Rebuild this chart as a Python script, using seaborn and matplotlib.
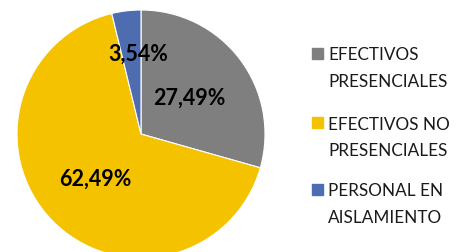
import numpy as np
import matplotlib
matplotlib.use("Agg")
import matplotlib.pyplot as plt
import matplotlib.patches as mpatches
import seaborn as sns

categories = ["EFECTIVOS\nPRESENCIALES", "EFECTIVOS NO\nPRESENCIALES", "PERSONAL EN\nAISLAMIENTO"]
values = [27.49, 62.49, 3.54]
colors = ["#7F7F7F", "#F5C200", "#4E6DB1"]
label_dist = [0.49, 0.51, 0.65]
label_shift = [0, 0, -5]  # degrees

sns.set_theme(style="white")
plt.rcParams['font.family'] = ['Lato', 'DejaVu Sans']

W, H = 469, 253
fig = plt.figure(figsize=(W / 100, H / 100), dpi=100)
# pie radius 124px, centre at (141, 135) from top-left
ax = fig.add_axes([17 / W, (H - 135 - 124) / H, 248 / W, 248 / H])
wedges, _ = ax.pie(values, colors=colors, startangle=90, counterclock=False,
                   radius=1, wedgeprops={"linewidth": 0.8, "edgecolor": "white"})
ax.set_xlim(-1, 1)
ax.set_ylim(-1, 1)
ax.set_aspect("equal")
ax.axis("off")
for w in wedges:
    w.set_clip_on(False)

for w, v, d, s in zip(wedges, values, label_dist, label_shift):
    mid = np.deg2rad((w.theta1 + w.theta2) / 2 + s)
    ax.text(d * np.cos(mid), d * np.sin(mid), f"{v:.2f}%".replace(".", ","),
            ha="center", va="center", fontsize=15.5, fontweight="bold", color="black")

# legend drawn by hand: square sits beside the first line of each label
entry_y = [54, 123, 190]
for c, lab, y0 in zip(colors, categories, entry_y):
    fig.patches.append(mpatches.Rectangle((312 / W, 1 - (y0 + 5.5) / H), 11 / W, 11 / H,
                                          transform=fig.transFigure, color=c))
    for k, line in enumerate(lab.split("\n")):
        fig.text(328 / W, 1 - (y0 + 26.5 * k) / H, line, ha="left", va="center_baseline",
                 fontsize=12.3, color="#1a1a1a")

fig.savefig("out.png", dpi=100)
